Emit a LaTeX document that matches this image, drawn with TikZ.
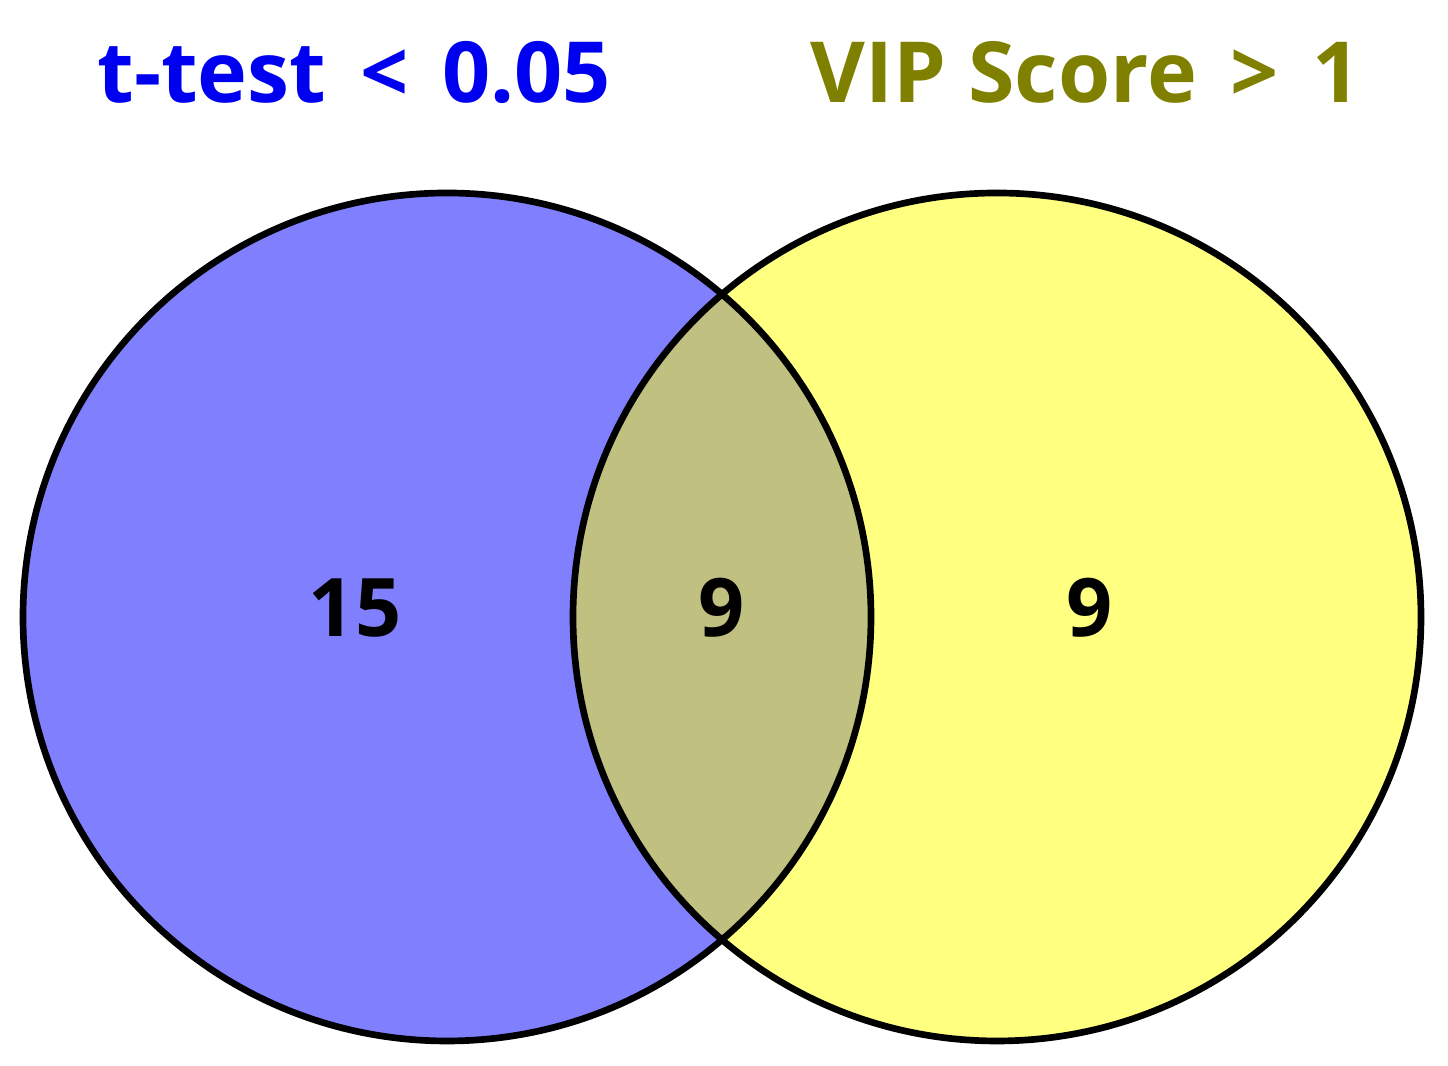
\documentclass[tikz,border=0pt]{standalone}
\usepackage{fontspec}
\setmainfont{Open Sans}
\usepackage{tikz}
\usetikzlibrary{positioning}

\definecolor{setblue}{HTML}{8080FF}
\definecolor{setyellow}{HTML}{FFFF80}
\definecolor{setboth}{HTML}{C0C080}
\definecolor{titleblue}{HTML}{0000F0}
\definecolor{titleolive}{HTML}{808000}

\begin{document}
\begin{tikzpicture}[
    setcircle/.style={circle, draw=black, line width=1.9pt, minimum size=8.48cm, inner sep=0pt},
    settitle/.style={font=\fontsize{24}{28}\selectfont\bfseries},
    setcount/.style={font=\fontsize{23}{28}\selectfont\bfseries, text=black}
  ]
    \useasboundingbox (0,0) rectangle (14.48,10.66);

    % Fill the two sets and their overlap
    \fill[setblue] (4.47,4.49) circle (4.24);
    \fill[setyellow] (9.97,4.49) circle (4.24);
    \begin{scope}
      \clip (4.47,4.49) circle (4.24);
      \fill[setboth] (9.97,4.49) circle (4.24);
    \end{scope}

    % Outlines
    \node[setcircle] (setA) at (4.47,4.49) {};
    \node[setcircle] (setB) at (9.97,4.49) {};

    % Titles
    \node[settitle, text=titleblue] (titleA) at (3.54,9.94) {t-test\hspace{0.12cm} <\hspace{0.12cm} 0.05};
    \node[settitle, text=titleolive] (titleB) at (10.86,9.94) {VIP Score\hspace{0.12cm} >\hspace{0.12cm} 1};

    % Counts
    \node[setcount] (onlyA) at (3.55,4.58) {15};
    \node[setcount] (inAB) at (7.22,4.58) {9};
    \node[setcount] (onlyB) at (10.90,4.58) {9};

  \end{tikzpicture}
\end{document}
